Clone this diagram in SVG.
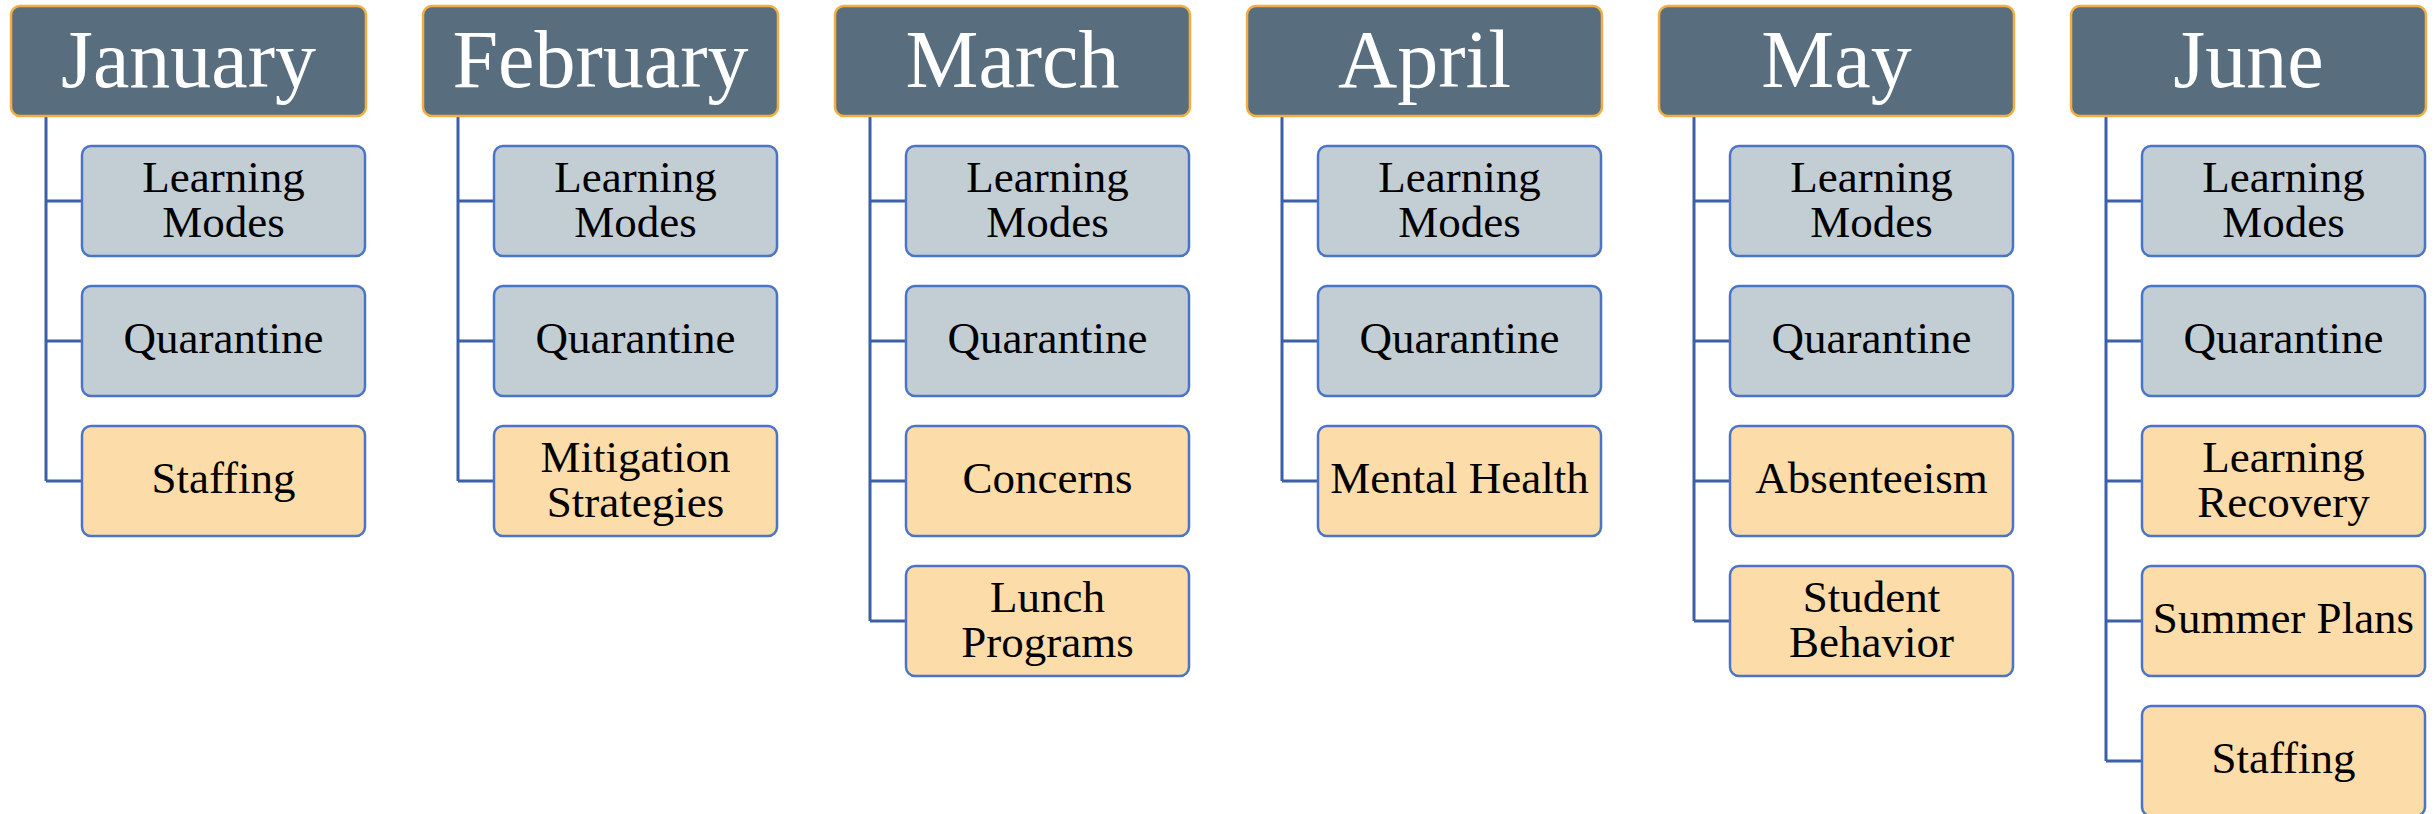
<svg xmlns="http://www.w3.org/2000/svg" width="2435" height="814" viewBox="0 0 2435 814">
<style>
.hdr{fill:#586E7F;stroke:#F2AE45;stroke-width:2.5}
.ht{font-family:"Liberation Serif","Times New Roman",serif;font-size:82px;fill:#FFFFFF;text-anchor:middle}
.g{fill:#C3CDD4;stroke:#4A75C6;stroke-width:2.5}
.o{fill:#FCDCA9;stroke:#4A75C6;stroke-width:2.5}
.t{font-family:"Liberation Serif","Times New Roman",serif;font-size:45px;fill:#000000;text-anchor:middle}
.c{fill:none;stroke:#3D5FA8;stroke-width:3}
</style>
<g id="connectors">
<path class="c" d="M46 117 V481 M46 201 H82 M46 341 H82 M46 481 H82"/>
<path class="c" d="M458 117 V481 M458 201 H494 M458 341 H494 M458 481 H494"/>
<path class="c" d="M870 117 V621 M870 201 H906 M870 341 H906 M870 481 H906 M870 621 H906"/>
<path class="c" d="M1282 117 V481 M1282 201 H1318 M1282 341 H1318 M1282 481 H1318"/>
<path class="c" d="M1694 117 V621 M1694 201 H1730 M1694 341 H1730 M1694 481 H1730 M1694 621 H1730"/>
<path class="c" d="M2106 117 V761 M2106 201 H2142 M2106 341 H2142 M2106 481 H2142 M2106 621 H2142 M2106 761 H2142"/>
</g>
<g id="jan">
<rect class="hdr" x="11" y="6" width="355" height="110" rx="9"/><text class="ht" x="188.5" y="87">January</text>
</g>
<g id="jan-lm"><rect class="g" x="82" y="146" width="283" height="110" rx="9"/><text class="t" x="223.5" y="191.5">Learning</text><text class="t" x="223.5" y="236.5">Modes</text></g>
<g id="jan-q"><rect class="g" x="82" y="286" width="283" height="110" rx="9"/><text class="t" x="223.5" y="353">Quarantine</text></g>
<g id="jan-s"><rect class="o" x="82" y="426" width="283" height="110" rx="9"/><text class="t" x="223.5" y="493">Staffing</text></g>

<g id="feb">
<rect class="hdr" x="423" y="6" width="355" height="110" rx="9"/><text class="ht" x="600.5" y="87">February</text>
</g>
<g id="feb-lm"><rect class="g" x="494" y="146" width="283" height="110" rx="9"/><text class="t" x="635.5" y="191.5">Learning</text><text class="t" x="635.5" y="236.5">Modes</text></g>
<g id="feb-q"><rect class="g" x="494" y="286" width="283" height="110" rx="9"/><text class="t" x="635.5" y="353">Quarantine</text></g>
<g id="feb-m"><rect class="o" x="494" y="426" width="283" height="110" rx="9"/><text class="t" x="635.5" y="471.5">Mitigation</text><text class="t" x="635.5" y="516.5">Strategies</text></g>

<g id="mar">
<rect class="hdr" x="835" y="6" width="355" height="110" rx="9"/><text class="ht" x="1012.5" y="87">March</text>
</g>
<g id="mar-lm"><rect class="g" x="906" y="146" width="283" height="110" rx="9"/><text class="t" x="1047.5" y="191.5">Learning</text><text class="t" x="1047.5" y="236.5">Modes</text></g>
<g id="mar-q"><rect class="g" x="906" y="286" width="283" height="110" rx="9"/><text class="t" x="1047.5" y="353">Quarantine</text></g>
<g id="mar-c"><rect class="o" x="906" y="426" width="283" height="110" rx="9"/><text class="t" x="1047.5" y="493">Concerns</text></g>
<g id="mar-l"><rect class="o" x="906" y="566" width="283" height="110" rx="9"/><text class="t" x="1047.5" y="611.5">Lunch</text><text class="t" x="1047.5" y="656.5">Programs</text></g>

<g id="apr">
<rect class="hdr" x="1247" y="6" width="355" height="110" rx="9"/><text class="ht" x="1424.5" y="87">April</text>
</g>
<g id="apr-lm"><rect class="g" x="1318" y="146" width="283" height="110" rx="9"/><text class="t" x="1459.5" y="191.5">Learning</text><text class="t" x="1459.5" y="236.5">Modes</text></g>
<g id="apr-q"><rect class="g" x="1318" y="286" width="283" height="110" rx="9"/><text class="t" x="1459.5" y="353">Quarantine</text></g>
<g id="apr-mh"><rect class="o" x="1318" y="426" width="283" height="110" rx="9"/><text class="t" x="1459.5" y="493">Mental Health</text></g>

<g id="may">
<rect class="hdr" x="1659" y="6" width="355" height="110" rx="9"/><text class="ht" x="1836.5" y="87">May</text>
</g>
<g id="may-lm"><rect class="g" x="1730" y="146" width="283" height="110" rx="9"/><text class="t" x="1871.5" y="191.5">Learning</text><text class="t" x="1871.5" y="236.5">Modes</text></g>
<g id="may-q"><rect class="g" x="1730" y="286" width="283" height="110" rx="9"/><text class="t" x="1871.5" y="353">Quarantine</text></g>
<g id="may-a"><rect class="o" x="1730" y="426" width="283" height="110" rx="9"/><text class="t" x="1871.5" y="493">Absenteeism</text></g>
<g id="may-sb"><rect class="o" x="1730" y="566" width="283" height="110" rx="9"/><text class="t" x="1871.5" y="611.5">Student</text><text class="t" x="1871.5" y="656.5">Behavior</text></g>

<g id="jun">
<rect class="hdr" x="2071" y="6" width="355" height="110" rx="9"/><text class="ht" x="2248.5" y="87">June</text>
</g>
<g id="jun-lm"><rect class="g" x="2142" y="146" width="283" height="110" rx="9"/><text class="t" x="2283.5" y="191.5">Learning</text><text class="t" x="2283.5" y="236.5">Modes</text></g>
<g id="jun-q"><rect class="g" x="2142" y="286" width="283" height="110" rx="9"/><text class="t" x="2283.5" y="353">Quarantine</text></g>
<g id="jun-lr"><rect class="o" x="2142" y="426" width="283" height="110" rx="9"/><text class="t" x="2283.5" y="471.5">Learning</text><text class="t" x="2283.5" y="516.5">Recovery</text></g>
<g id="jun-sp"><rect class="o" x="2142" y="566" width="283" height="110" rx="9"/><text class="t" x="2283.5" y="633">Summer Plans</text></g>
<g id="jun-s"><rect class="o" x="2142" y="706" width="283" height="110" rx="9"/><text class="t" x="2283.5" y="773">Staffing</text></g>
</svg>
